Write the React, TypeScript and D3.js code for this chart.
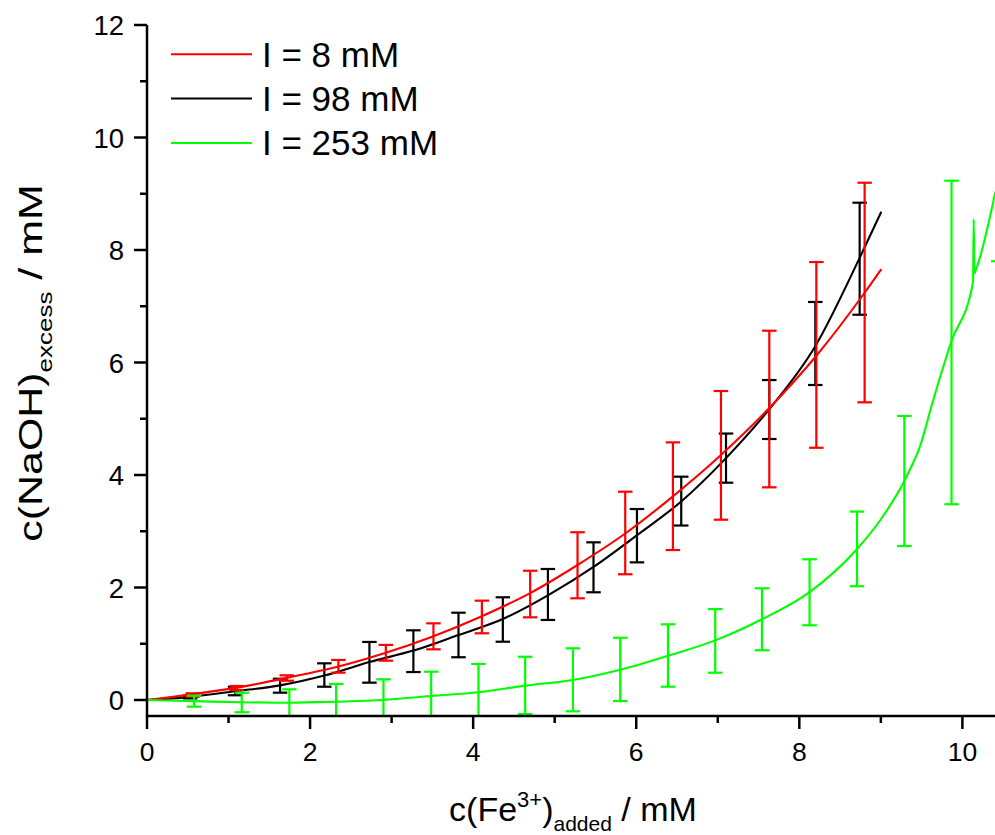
import React, { useEffect, useRef } from "react";
import * as d3 from "d3";

// ---- axis ticks ----
const xTicksMajor = [0, 2, 4, 6, 8, 10];
const xTicksMinor = [1, 3, 5, 7, 9];
const yTicksMajor = [0, 2, 4, 6, 8, 10, 12];
const yTicksMinor = [1, 3, 5, 7, 9, 11];

// ---- series ----
const seriesLabels = ["I = 8 mM", "I = 98 mM", "I = 253 mM"];
const seriesColors = ["#ff0000", "#000000", "#00ff00"];

// I = 8 mM (red) curve
const redX = [0, 0.548, 1.1, 1.714, 2.347, 2.929, 3.513, 4.107, 4.699, 5.28, 5.865, 6.45, 7.039, 7.632, 8.209, 8.801, 9.006];
const redY = [0, 0.1, 0.22, 0.393, 0.595, 0.84, 1.135, 1.49, 1.9, 2.4, 2.96, 3.62, 4.355, 5.19, 6.12, 7.24, 7.66];
// I = 8 mM error bars
const redErrX = [0.56, 1.1, 1.714, 2.347, 2.929, 3.513, 4.107, 4.699, 5.28, 5.865, 6.45, 7.039, 7.632, 8.209, 8.801];
const redErrY = [0.089, 0.213, 0.391, 0.599, 0.839, 1.132, 1.476, 1.884, 2.395, 2.969, 3.623, 4.349, 5.173, 6.135, 7.244];
const redErr = [0.03, 0.036, 0.048, 0.113, 0.14, 0.231, 0.29, 0.414, 0.587, 0.734, 0.957, 1.144, 1.392, 1.651, 1.952];

// I = 98 mM (black) curve
const blackX = [0, 0.535, 1.08, 1.632, 2.175, 2.728, 3.267, 3.82, 4.364, 4.917, 5.476, 6.009, 6.552, 7.101, 7.632, 8.196, 8.74, 9.006];
const blackY = [0, 0.055, 0.155, 0.26, 0.435, 0.675, 0.878, 1.156, 1.44, 1.86, 2.365, 2.93, 3.53, 4.3, 5.17, 6.29, 7.86, 8.68];
// I = 98 mM error bars
const blackErrX = [0.53, 1.08, 1.632, 2.175, 2.728, 3.267, 3.82, 4.364, 4.917, 5.476, 6.009, 6.552, 7.101, 7.632, 8.196, 8.74];
const blackErrY = [0.053, 0.16, 0.254, 0.444, 0.67, 0.868, 1.156, 1.431, 1.876, 2.359, 2.921, 3.536, 4.3, 5.164, 6.338, 7.845];
const blackErr = [0.025, 0.076, 0.124, 0.208, 0.362, 0.371, 0.396, 0.395, 0.453, 0.444, 0.474, 0.434, 0.437, 0.524, 0.738, 0.996];

// I = 253 mM (green) curve
const greenX = [0, 0.589, 1.174, 1.746, 2.319, 2.892, 3.485, 4.065, 4.638, 5.223, 5.804, 6.389, 6.969, 7.542, 8.126, 8.708, 8.994, 9.288, 9.383, 9.464, 9.648, 9.861, 10.131, 10.139, 10.147, 10.172, 10.405];
const greenY = [0, -0.02, -0.041, -0.048, -0.03, 0, 0.071, 0.137, 0.255, 0.357, 0.538, 0.786, 1.06, 1.435, 1.918, 2.685, 3.2, 3.893, 4.178, 4.444, 5.36, 6.36, 7.436, 8.551, 7.586, 7.675, 9.036];
// I = 253 mM error bars
const greenErrX = [0.577, 1.162, 1.746, 2.319, 2.9, 3.485, 4.065, 4.638, 5.223, 5.804, 6.389, 6.969, 7.542, 8.126, 8.708, 9.288, 9.867, 10.44];
const greenErrY = [-0.021, -0.044, -0.048, -0.03, 0, 0.071, 0.137, 0.26, 0.359, 0.544, 0.791, 1.051, 1.435, 1.915, 2.686, 3.893, 6.356, 10.2];
const greenErr = [0.098, 0.174, 0.238, 0.315, 0.368, 0.432, 0.503, 0.509, 0.56, 0.563, 0.555, 0.566, 0.551, 0.587, 0.664, 1.156, 2.876, 2.4];

const W = 995;
const H = 835;
const FONT = "'Liberation Sans', Arial, 'DejaVu Sans', sans-serif";

export default function App() {
  const ref = useRef<SVGSVGElement>(null);

  useEffect(() => {
    const svg = d3.select(ref.current);
    svg.selectAll("*").remove();

    const x = d3.scaleLinear().domain([0, 10.4]).range([147, 995]);
    const y = d3.scaleLinear().domain([0, 12]).range([700, 25]);
    const yBottom = -0.285;
    const plotBottom = y(yBottom);
    const plotTop = y(12);

    svg.append("rect").attr("width", W).attr("height", H).attr("fill", "#fff");

    const defs = svg.append("defs");
    defs
      .append("clipPath")
      .attr("id", "plotclip")
      .append("rect")
      .attr("x", x(0))
      .attr("y", plotTop)
      .attr("width", W - x(0))
      .attr("height", plotBottom - plotTop);

    const plot = svg.append("g").attr("clip-path", "url(#plotclip)");

    const series = [
      { i: 1, xs: blackX, ys: blackY, ex: blackErrX, ey: blackErrY, ee: blackErr },
      { i: 0, xs: redX, ys: redY, ex: redErrX, ey: redErrY, ee: redErr },
      { i: 2, xs: greenX, ys: greenY, ex: greenErrX, ey: greenErrY, ee: greenErr },
    ];

    const line = d3
      .line<[number, number]>()
      .x((d) => x(d[0]))
      .y((d) => y(d[1]))
      .curve(d3.curveMonotoneX);

    const cap = 7.25;
    series.forEach((s) => {
      const color = seriesColors[s.i];
      const pts: [number, number][] = s.xs.map((v, k) => [v, s.ys[k]]);
      plot
        .append("path")
        .attr("d", line(pts))
        .attr("fill", "none")
        .attr("stroke", color)
        .attr("stroke-width", 2.1);

      const g = plot.append("g").attr("stroke", color).attr("stroke-width", 2.2).attr("fill", "none");
      s.ex.forEach((xv, k) => {
        const lo = s.ey[k] - s.ee[k];
        const hi = s.ey[k] + s.ee[k];
        const px = x(xv);
        g.append("line").attr("x1", px).attr("x2", px).attr("y1", y(lo)).attr("y2", y(hi));
        g.append("line").attr("x1", px - cap).attr("x2", px + cap).attr("y1", y(lo)).attr("y2", y(lo));
        g.append("line").attr("x1", px - cap).attr("x2", px + cap).attr("y1", y(hi)).attr("y2", y(hi));
      });
    });

    // axes
    const axes = svg.append("g").attr("stroke", "#000").attr("stroke-width", 2.5);
    axes.append("line").attr("x1", x(0)).attr("x2", W).attr("y1", plotBottom).attr("y2", plotBottom);
    axes.append("line").attr("x1", x(0)).attr("x2", x(0)).attr("y1", plotBottom + 1.25).attr("y2", plotTop);

    xTicksMajor.forEach((t) => {
      axes.append("line").attr("x1", x(t)).attr("x2", x(t)).attr("y1", plotBottom).attr("y2", plotBottom + 13);
    });
    xTicksMinor.forEach((t) => {
      axes.append("line").attr("x1", x(t)).attr("x2", x(t)).attr("y1", plotBottom).attr("y2", plotBottom + 7);
    });
    yTicksMajor.forEach((t) => {
      axes.append("line").attr("x1", x(0)).attr("x2", x(0) - 13).attr("y1", y(t)).attr("y2", y(t));
    });
    yTicksMinor.forEach((t) => {
      axes.append("line").attr("x1", x(0)).attr("x2", x(0) - 7).attr("y1", y(t)).attr("y2", y(t));
    });

    const labels = svg.append("g").attr("font-family", FONT).attr("fill", "#000");
    xTicksMajor.forEach((t) => {
      labels
        .append("text")
        .attr("x", x(t))
        .attr("y", 761)
        .attr("text-anchor", "middle")
        .attr("font-size", 26.5)
        .text(String(t));
    });
    yTicksMajor.forEach((t) => {
      labels
        .append("text")
        .attr("x", 124)
        .attr("y", y(t) + 10)
        .attr("text-anchor", "end")
        .attr("font-size", 27.5)
        .text(String(t));
    });

    // x title
    const xt = labels
      .append("text")
      .attr("x", 573)
      .attr("y", 821)
      .attr("text-anchor", "middle")
      .attr("font-size", 34);
    xt.append("tspan").text("c(Fe");
    xt.append("tspan").attr("font-size", 22).attr("dy", -14).text("3+");
    xt.append("tspan").attr("font-size", 34).attr("dy", 14).text(")");
    xt.append("tspan").attr("font-size", 21).attr("dy", 10).text("added");
    xt.append("tspan").attr("font-size", 34).attr("dy", -10).text(" / mM");

    // y title
    const yg = labels.append("g").attr("transform", "translate(42,363) rotate(-90) scale(1.3,1)");
    const yt = yg.append("text").attr("x", 0).attr("y", 0).attr("text-anchor", "middle").attr("font-size", 33);
    yt.append("tspan").text("c(NaOH)");
    yt.append("tspan").attr("font-size", 20).attr("dy", 10).text("excess");
    yt.append("tspan").attr("font-size", 33).attr("dy", -10).text(" / mM");

    // legend
    const leg = svg.append("g");
    seriesLabels.forEach((lab, i) => {
      const ly = 54.3 + i * 44.3;
      leg
        .append("line")
        .attr("x1", 171)
        .attr("x2", 252)
        .attr("y1", ly)
        .attr("y2", ly)
        .attr("stroke", seriesColors[i])
        .attr("stroke-width", 2);
      leg
        .append("text")
        .attr("x", 262)
        .attr("y", ly + 12.5)
        .attr("font-family", FONT)
        .attr("font-size", 35)
        .attr("fill", "#000")
        .text(lab);
    });
  }, []);

  return (
    <svg
      ref={ref}
      width={W}
      height={H}
      style={{ position: "absolute", left: 0, top: 0, display: "block" }}
    />
  );
}
